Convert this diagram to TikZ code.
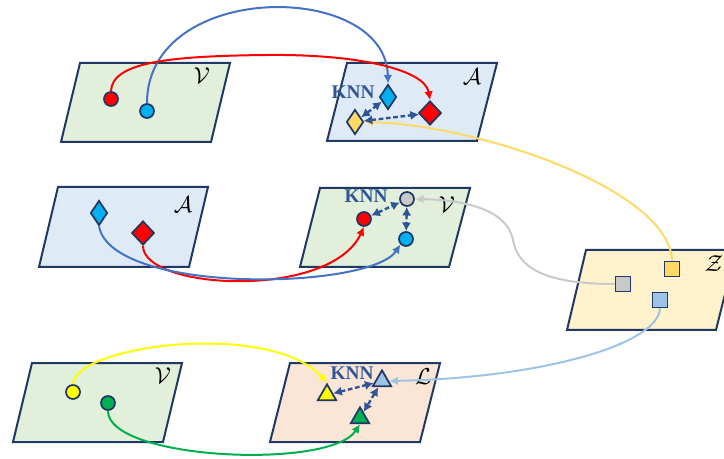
\documentclass[tikz,border=0pt]{standalone}
\usepackage{fontspec}
\usetikzlibrary{arrows.meta,shapes.geometric}
\newfontfamily\knnfont{Liberation Serif}

\definecolor{navy}{HTML}{203864}
\definecolor{knnblue}{HTML}{2F5597}
\definecolor{panelgreen}{HTML}{E2EFDA}
\definecolor{panelblue}{HTML}{DEEBF7}
\definecolor{panelgold}{HTML}{FFF2CC}
\definecolor{panelrose}{HTML}{FBE5D6}
\definecolor{cred}{HTML}{FF0000}
\definecolor{ccyan}{HTML}{00B0F0}
\definecolor{cgold}{HTML}{FFD966}
\definecolor{cgrey}{HTML}{C9C9C9}
\definecolor{clblue}{HTML}{9DC3E6}
\definecolor{cyellow}{HTML}{FFFF00}
\definecolor{cgreen}{HTML}{00B050}
\definecolor{cblue}{HTML}{4472C4}

\begin{document}
\begin{tikzpicture}[x=0.75pt,y=-0.75pt,
  panel/.style={draw=navy,line width=1.5pt,line join=miter},
  vdot/.style={circle,draw=navy,line width=1.3pt,minimum size=10.5pt,inner sep=0pt},
  gemnode/.style={diamond,draw=navy,line width=1.3pt,inner sep=0pt,minimum width=12.75pt,minimum height=18.75pt},
  biggem/.style={gemnode,minimum width=17pt,minimum height=18pt},
  sqnode/.style={rectangle,draw=navy,line width=1.3pt,minimum size=11.25pt,inner sep=0pt},
  trinode/.style={regular polygon,regular polygon sides=3,draw=navy,line width=1.3pt,minimum size=16pt,inner sep=0pt},
  setlabel/.style={font=\fontsize{16}{18}\selectfont,inner sep=0pt},
  knnlabel/.style={font=\knnfont\bfseries\fontsize{14.5}{16}\selectfont,text=knnblue,inner sep=0pt},
  link/.style={line width=1.5pt,-{Latex[length=6.5pt,width=6.5pt]}},
  knn/.style={draw=knnblue,line width=1.8pt,dash pattern=on 3.5pt off 2pt,
    {Latex[length=6.5pt,width=7pt]}-{Latex[length=6.5pt,width=7pt]}},
]
\clip (0,0) rectangle (724,459);

% planes
\draw[panel,fill=panelgreen] (80,63) -- (230,63) -- (211,142) -- (61,142) -- cycle;
\draw[panel,fill=panelblue]  (347,63) -- (497,63) -- (477,141) -- (327,141) -- cycle;
\draw[panel,fill=panelblue]  (58,187) -- (208,187) -- (189,267) -- (39,267) -- cycle;
\draw[panel,fill=panelgreen] (320,188) -- (470,188) -- (449,267) -- (300,267) -- cycle;
\draw[panel,fill=panelgold]  (586,250) -- (736,250) -- (716,330) -- (567,330) -- cycle;
\draw[panel,fill=panelgreen] (32,363) -- (182,363) -- (163,442) -- (13,442) -- cycle;
\draw[panel,fill=panelrose]  (290,363) -- (440,363) -- (420,442) -- (270,442) -- cycle;

% plane labels
\node[setlabel] (lv1) at (202,76) {$\mathcal{V}$};
\node[setlabel] (la2) at (472,77) {$\mathcal{A}$};
\node[setlabel] (la3) at (183,205) {$\mathcal{A}$};
\node[setlabel] (lv4) at (447,205) {$\mathcal{V}$};
\node[setlabel] (lz5) at (714,264) {$\mathcal{Z}$};
\node[setlabel] (lv6) at (163,376) {$\mathcal{V}$};
\node[setlabel] (ll7) at (423,377) {$\mathcal{L}$};

\node[knnlabel] (k2) at (353,92) {KNN};
\node[knnlabel] (k4) at (366,196) {KNN};
\node[knnlabel] (k7) at (352,373) {KNN};

% elements
\node[vdot,fill=cred]  (r1) at (111,99) {};
\node[vdot,fill=ccyan] (b1) at (147,111) {};

\node[gemnode,fill=ccyan] (bd2) at (388,97) {};
\node[biggem,fill=cred]   (rd2) at (430,113) {};
\node[gemnode,fill=cgold] (yd2) at (355,122) {};

\node[gemnode,fill=ccyan] (bd3) at (99,213) {};
\node[biggem,fill=cred]   (rd3) at (143,233) {};

\node[vdot,fill=cgrey] (gc4) at (407,199) {};
\node[vdot,fill=cred]  (rc4) at (364,219) {};
\node[vdot,fill=ccyan] (bc4) at (406,239) {};

\node[sqnode,fill=cgold]  (ysq) at (672,269) {};
\node[sqnode,fill=cgrey]  (gsq) at (623,284) {};
\node[sqnode,fill=clblue] (bsq) at (660,300) {};

\node[vdot,fill=cyellow] (yc6) at (73,392) {};
\node[vdot,fill=cgreen]  (gc6) at (108,403) {};

\node[trinode,fill=cyellow] (yt7) at (327,395) {};
\node[trinode,fill=clblue]  (bt7) at (382,381) {};
\node[trinode,fill=cgreen]  (gt7) at (360,418) {};

% mappings between planes
\draw[link,draw=cblue] (b1.north) .. controls (147,-20) and (386,-20) .. (bd2.north);
\draw[link,draw=cred] (r1.north) .. controls (112,62) and (170,56) .. (267,55)
  .. controls (360,54) and (425,70) .. (rd2.north);
\draw[link,draw=cgold] (ysq.north) .. controls (670,190) and (480,125) .. (yd2.east);
\draw[link,draw=cgrey] (gsq.west) .. controls (545,284) and (518,268) .. (513,240)
  .. controls (508,212) and (470,200) .. (gc4.east);
\draw[link,draw=clblue] (bsq.south) .. controls (658,345) and (540,378) .. (bt7.east);
\draw[link,draw=cred] (rd3.south) .. controls (143,290) and (330,300) .. (rc4.south);
\draw[link,draw=cblue] (bd3.south) .. controls (112,295) and (370,290) .. (bc4.south west);
\draw[link,draw=cyellow] (yc6.north) .. controls (75,345) and (270,320) .. (yt7.north);
\draw[link,draw=cgreen] (gc6.south) .. controls (108,460) and (330,470) .. (gt7.south);

% nearest-neighbour links
\draw[knn] (yd2) -- (bd2);
\draw[knn] (yd2) -- (rd2);
\draw[knn] (rc4) -- (gc4);
\draw[knn] (gc4) -- (bc4);
\draw[knn] (yt7) -- (bt7);
\draw[knn] (bt7) -- (gt7);
\end{tikzpicture}
\end{document}
